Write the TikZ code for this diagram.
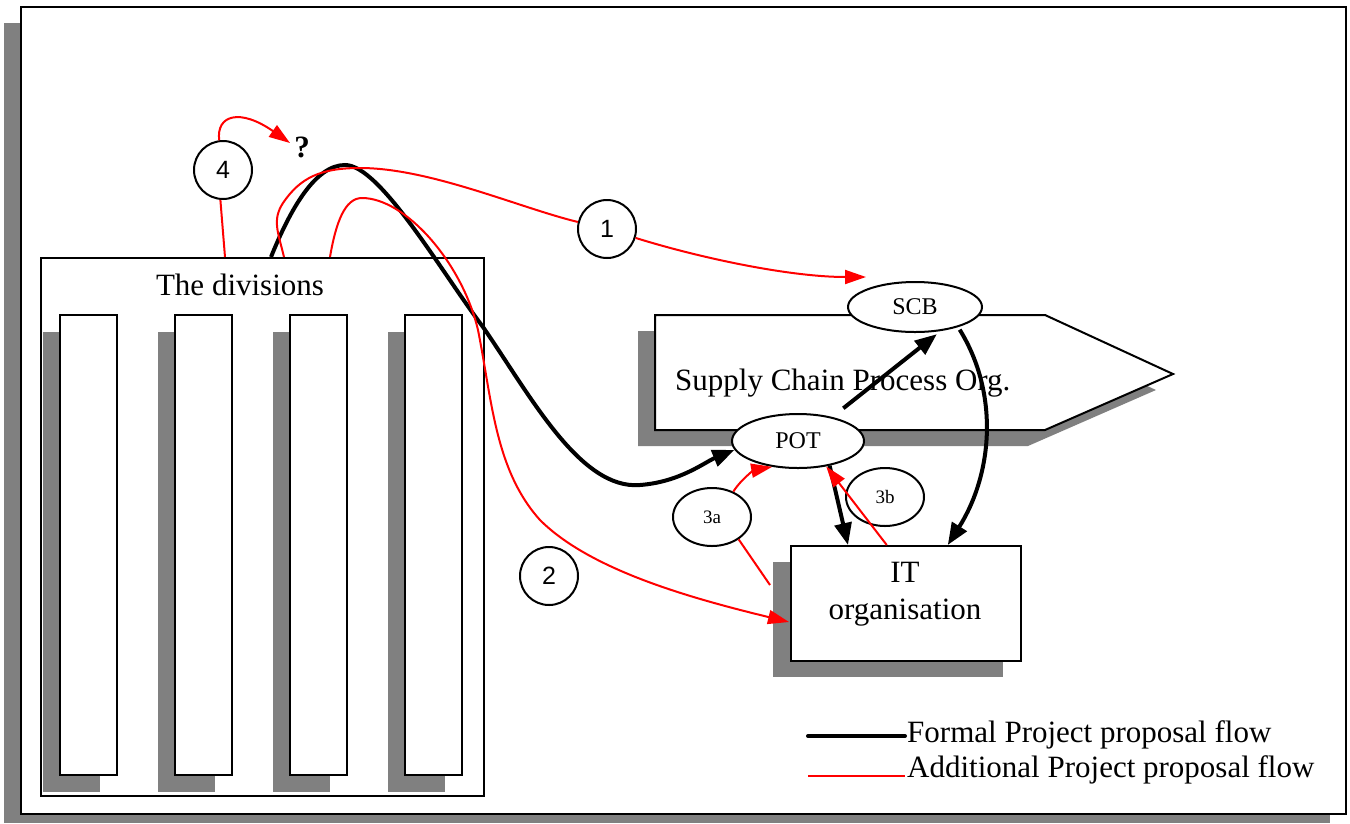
\documentclass[tikz,border=0pt]{standalone}
\usepackage{fontspec}
\setmainfont{Liberation Serif}
\newfontfamily\labelsans{Liberation Sans}
\usetikzlibrary{arrows.meta,calc,shapes.geometric}

\definecolor{greyfill}{HTML}{808080}
\definecolor{flowred}{HTML}{FF0000}

\begin{document}
\begin{tikzpicture}[x=1pt,y=-1pt,
  greyback/.style={fill=greyfill,draw=none},
  panel/.style={draw=black,line width=2pt,fill=white,inner sep=0pt},
  formal/.style={draw=black,line width=4pt,-{Triangle[length=22pt,width=17pt]}},
  addline/.style={draw=flowred,line width=2pt},
  addarrow/.style={addline,-{Triangle[length=21pt,width=14pt]}},
  oval/.style={ellipse,draw=black,line width=2pt,fill=white,inner sep=0pt},
  num/.style={circle,draw=black,line width=2pt,fill=white,minimum size=58pt,inner sep=0pt,font=\labelsans\fontsize{25}{25}\selectfont},
  big/.style={font=\fontsize{31}{37}\selectfont,inner sep=0pt},
]
\useasboundingbox (0,0) rectangle (1350,823);

% page frame with its shadow
\fill[greyback] (4,23) rectangle (1330,823);
\draw[line width=2.5pt,fill=white] (21,7) rectangle (1346,814);

% the divisions
\node[panel,fill=none,minimum width=443pt,minimum height=538pt,anchor=north west] (div) at (40,257) {};
\node[anchor=base,big] at (240,295) {The divisions};
\foreach \x in {60,175,290,405}{
  \fill[greyback] (\x-17,332) rectangle (\x+40,792);
  \draw[line width=2pt,fill=white] (\x,315) rectangle (\x+57,775);
}

% supply chain process organisation
\fill[greyback] (638,331) -- (1028,331) -- (1156,390) -- (1028,446) -- (638,446) -- cycle;
\draw[line width=2pt,fill=white] (655,315) -- (1045,315) -- (1173,374) -- (1045,430) -- (655,430) -- cycle;
\node[anchor=base west,big] at (675,390) {Supply Chain Process Org.};

% IT organisation
\fill[greyback] (773,562) rectangle (1003,677);
\node[panel,minimum width=230pt,minimum height=115pt,anchor=north west] (it) at (790,545) {};
\node[align=center,big] at (905,594) {IT\\organisation};

% boards and step labels
\node[oval,minimum width=134pt,minimum height=50pt,font=\fontsize{24}{24}\selectfont] (scb) at (915,307) {SCB};
\node[oval,minimum width=132pt,minimum height=54pt,font=\fontsize{24}{24}\selectfont] (pot) at (798,441) {POT};
\node[oval,minimum width=78pt,minimum height=58pt,font=\fontsize{19}{19}\selectfont] (p3a) at (712,517) {3a};
\node[oval,minimum width=78pt,minimum height=58pt,font=\fontsize{19}{19}\selectfont] (p3b) at (885,497) {3b};
\node[num] (c1) at (607,229) {1};
\node[num] (c2) at (549,576) {2};
\node[num] (c4) at (223,170) {4};
\node[font=\fontsize{31}{31}\selectfont\bfseries] (qm) at (302,147) {?};

% connector end points
\coordinate (dA) at (225,257);
\coordinate (dB) at (271,257);
\coordinate (dC) at (284,257);
\coordinate (dD) at (330,257);
\coordinate (scbin) at (866,277);
\coordinate (itin) at (789,622);
\coordinate (itback) at (770,585);
\coordinate (qin) at (290,143);

% formal flow
\draw[formal] (dB) .. controls (290,210) and (315,165) .. (345,165)
  .. controls (380,165) and (440,270) .. (483,327)
  .. controls (530,395) and (580,490) .. (640,485)
  .. controls (680,482) and (705,462) .. (pot.188);
\draw[formal,shorten <=14pt,shorten >=5pt] (pot.35) -- (scb.317);
\draw[formal] (pot.322) -- ($(it.north west)!0.25!(it.north east)$);
\draw[formal,shorten <=3pt] (scb.335) .. controls (1000,395) and (992,475) .. ($(it.north west)!0.68!(it.north east)$);

% additional flows
\draw[addline] (dC) .. controls (278,232) and (272,220) .. (283,203)
  .. controls (300,178) and (320,168) .. (360,168)
  .. controls (430,168) and (520,208) .. (c1);
\draw[addarrow] (c1) .. controls (700,258) and (790,277) .. (scbin);
\draw[addarrow] (dD) .. controls (336,222) and (345,198) .. (362,198)
  .. controls (405,198) and (462,262) .. (478,330)
  .. controls (492,400) and (495,470) .. (540,520)
  .. controls (590,570) and (690,598) .. (itin);
\draw[addline] (dA) -- (c4.265);
\draw[addarrow] (c4) .. controls (216,115) and (240,108) .. (qin);
\draw[addline] (itback) -- (p3a.320);
\draw[addarrow] (p3a.50) .. controls (742,478) and (755,470) .. (pot.225);
\draw[addarrow] ($(it.north west)!0.417!(it.north east)$) -- (pot.318);

% legend
\node[anchor=base west,big] (lf) at (907,742) {Formal Project proposal flow};
\node[anchor=base west,big] (la) at (907,777) {Additional Project proposal flow};
\draw[black,line width=4pt,line cap=round] (808,736) -- (905,736);
\draw[flowred,line width=2pt] (808,776) -- (905,776);
\end{tikzpicture}
\end{document}
